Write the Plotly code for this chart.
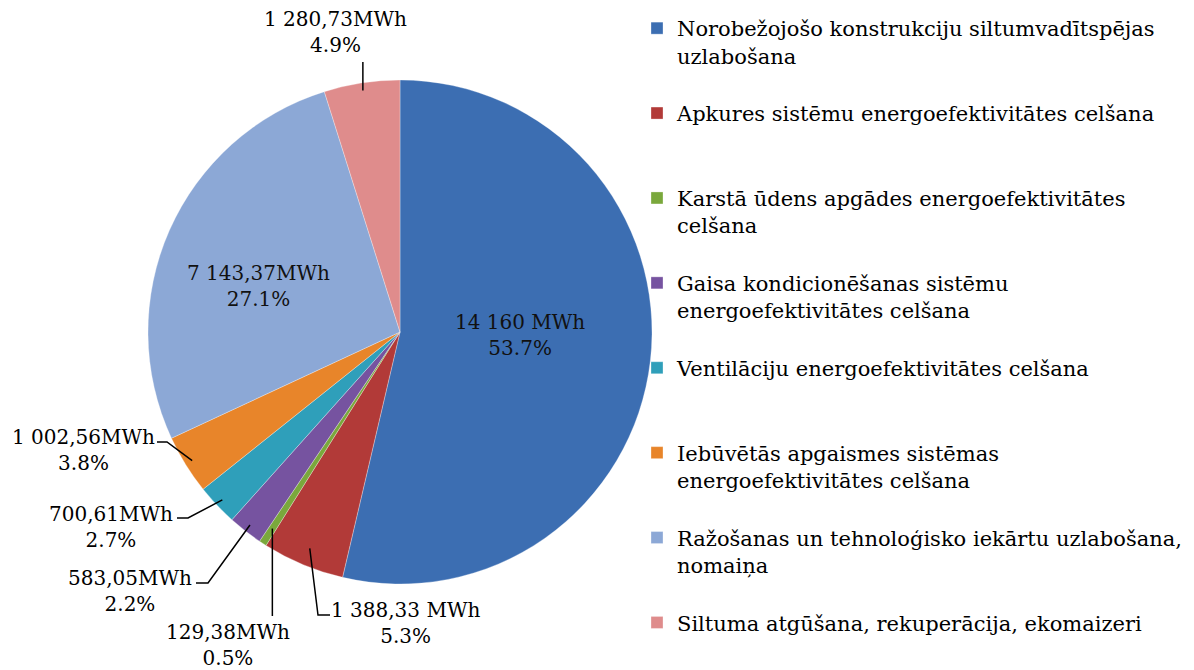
import numpy as np
import plotly.graph_objects as go

W, H = 1194, 670
OFF = 8  # page body margin around the plot div

categories = [
    "Norobežojošo konstrukciju siltumvadītspējas<br>uzlabošana",
    "Apkures sistēmu energoefektivitātes celšana",
    "Karstā ūdens apgādes energoefektivitātes<br>celšana",
    "Gaisa kondicionēšanas sistēmu<br>energoefektivitātes celšana",
    "Ventilāciju energoefektivitātes celšana",
    "Iebūvētās apgaismes sistēmas<br>energoefektivitātes celšana",
    "Ražošanas un tehnoloģisko iekārtu uzlabošana,<br>nomaiņa",
    "Siltuma atgūšana, rekuperācija, ekomaizeri",
]
values_mwh = [14160, 1388.33, 129.38, 583.05, 700.61, 1002.56, 7143.37, 1280.73]
value_labels = ["14 160 MWh", "1 388,33 MWh", "129,38MWh", "583,05MWh",
                "700,61MWh", "1 002,56MWh", "7 143,37MWh", "1 280,73MWh"]
colors = ["#3C6EB2", "#B23A38", "#7AA83C", "#7653A0",
          "#2F9FBA", "#E8852A", "#8CA8D6", "#DF8C8C"]

FONT = "DejaVu Serif"

# pie geometry in screen pixels
cx, cy, R = 400, 332, 252


def px(x, y):
    return (x - OFF) / W, 1 - (y - OFF) / H


# pad legend entries so every item takes the same height
legend_names = [c + ("<br> " if "<br>" in c else "<br> <br> ") for c in categories]

x0, y1 = px(cx - R, cy - R)
x1, y0 = px(cx + R, cy + R)
fig = go.Figure(go.Pie(
    labels=legend_names,
    values=values_mwh,
    sort=False,
    direction="clockwise",
    rotation=0,
    marker=dict(colors=colors, line=dict(color="rgba(255,255,255,0.5)", width=0.6)),
    textinfo="none",
    hoverinfo="label+value+percent",
    domain=dict(x=[x0, x1], y=[y0, y1]),
))

vals = np.array(values_mwh)
frac = vals / vals.sum()
mid = np.cumsum(frac) - frac / 2
ang = mid * 2 * np.pi


def edge(i, k=0.97):
    return cx + R * k * np.sin(ang[i]), cy - R * k * np.cos(ang[i])


def text(i):
    return f"{value_labels[i]}<br>{frac[i] * 100:.1f}%"


annotations = []
shapes = []

# labels inside the two big slices
for i, (tx, ty) in {0: (520, 335), 6: (258, 286)}.items():
    x, y = px(tx, ty)
    annotations.append(dict(x=x, y=y, xref="paper", yref="paper", text=text(i),
                            xanchor="center", yanchor="middle", showarrow=False,
                            font=dict(size=20, color="#111", family=FONT)))

# outside labels: (text centre, elbow points of the leader line)
outside = {
    7: ((335, 32), [(None, 62)]),
    5: ((83, 450), [(167, 442), (157, 442)]),
    4: ((111, 527), [(188, 518), (177, 518)]),
    3: ((130, 591), [(208, 583), (196, 583)]),
    2: ((228, 645), [(None, 616)]),
    1: ((405, 623), [(318, 615), (330, 615)]),
}
for i, ((tx, ty), elbow) in outside.items():
    x, y = px(tx, ty)
    annotations.append(dict(x=x, y=y, xref="paper", yref="paper", text=text(i),
                            xanchor="center", yanchor="middle", showarrow=False,
                            font=dict(size=20, color="#000", family=FONT)))
    ex, ey = edge(i, 0.97 if i not in (1, 2) else 0.93)
    pts = [(ex, ey)]
    for (qx, qy) in elbow:
        pts.append((ex if qx is None else qx, qy))
    path = "M " + " L ".join(f"{px(a, b)[0]},{px(a, b)[1]}" for a, b in pts)
    shapes.append(dict(type="path", path=path, xref="paper", yref="paper",
                       line=dict(color="black", width=1.5)))

fig.update_layout(
    width=W, height=H,
    margin=dict(l=0, r=0, t=0, b=0),
    paper_bgcolor="white",
    font=dict(family=FONT, size=21, color="#000"),
    annotations=annotations,
    shapes=shapes,
    legend=dict(x=px(637, 0)[0], y=1.0, xanchor="left", yanchor="top",
                valign="top", font=dict(size=21, family=FONT),
                bgcolor="rgba(0,0,0,0)",
                itemwidth=30, traceorder="normal"),
)

fig.write_html("out.html")
